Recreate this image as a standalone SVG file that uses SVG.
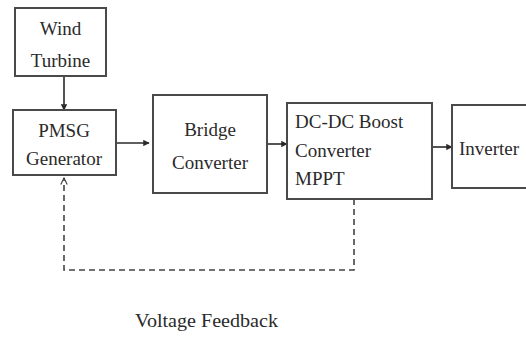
<svg xmlns="http://www.w3.org/2000/svg" width="526" height="338" viewBox="0 0 526 338">
  <defs>
    <marker id="arrow" viewBox="0 0 10 10" refX="9" refY="5" markerWidth="4" markerHeight="4" orient="auto" markerUnits="strokeWidth">
      <path d="M0,0 L10,5 L0,10 z" fill="#2a2a2a"/>
    </marker>
    <marker id="open" viewBox="0 0 10 10" refX="9" refY="5" markerWidth="5" markerHeight="5" orient="auto" markerUnits="strokeWidth">
      <path d="M1,1 L9,5 L1,9" fill="none" stroke="#444" stroke-width="1.5"/>
    </marker>
  </defs>
  <style>
    .box { fill: #fff; stroke: #4a4a4a; stroke-width: 2; }
    .lbl { font-size: 19px; fill: #2a2a2a; }
    .c { text-anchor: middle; }
    .wire { fill: none; stroke: #2a2a2a; stroke-width: 1.6; }
    .dash { fill: none; stroke: #444; stroke-width: 1.6; stroke-dasharray: 6 4; }
  </style>
  <rect width="526" height="338" fill="#fff"/>

  <g id="connectors">
    <line class="wire" x1="64" y1="76" x2="64" y2="110" marker-end="url(#arrow)"/>
    <line class="wire" x1="116" y1="143" x2="149" y2="143" marker-end="url(#arrow)"/>
    <line class="wire" x1="267" y1="144" x2="287" y2="144" marker-end="url(#arrow)"/>
    <line class="wire" x1="432" y1="147" x2="452" y2="147" marker-end="url(#arrow)"/>
    <path class="dash" d="M354,199 L354,270 L64,270 L64,178" marker-end="url(#open)"/>
  </g>

  <g font-family="Liberation Serif, DejaVu Serif, serif">
    <g id="wind-turbine">
      <rect class="box" x="15" y="8" width="91" height="68"/>
      <text class="lbl c" x="60.5" y="35">Wind</text>
      <text class="lbl c" x="60.5" y="67">Turbine</text>
    </g>

    <g id="pmsg-generator">
      <rect class="box" x="13" y="110" width="103" height="65"/>
      <text class="lbl c" x="64" y="137">PMSG</text>
      <text class="lbl c" x="64" y="165">Generator</text>
    </g>

    <g id="bridge-converter">
      <rect class="box" x="153" y="95" width="114" height="98"/>
      <text class="lbl c" x="210" y="136">Bridge</text>
      <text class="lbl c" x="210" y="169">Converter</text>
    </g>

    <g id="dc-dc-boost">
      <rect class="box" x="287" y="103" width="145" height="96"/>
      <text class="lbl" x="295" y="128">DC-DC Boost</text>
      <text class="lbl" x="295" y="157">Converter</text>
      <text class="lbl" x="295" y="185">MPPT</text>
    </g>

    <g id="inverter">
      <rect class="box" x="452" y="105" width="90" height="83"/>
      <text class="lbl" x="459" y="155">Inverter</text>
    </g>

    <text class="lbl" x="135" y="327" textLength="143" lengthAdjust="spacingAndGlyphs" font-size="20">Voltage Feedback</text>
  </g>
</svg>
